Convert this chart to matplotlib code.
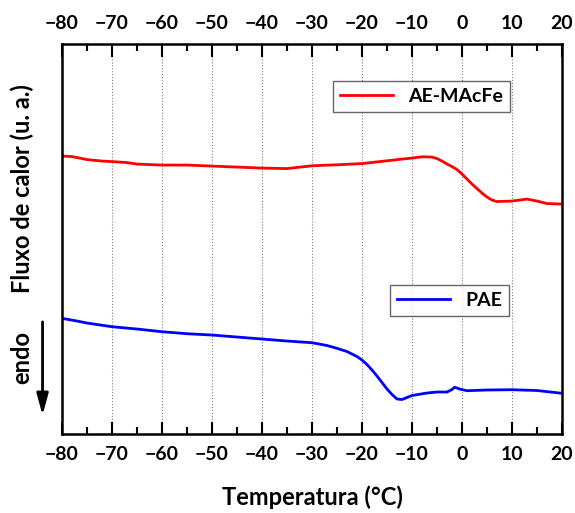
#DSC curves for AE-MAcFe and PAE
import numpy as np
import matplotlib.pyplot as plt
from matplotlib.lines import Line2D

plt.rcParams['font.family'] = ['Lato', 'DejaVu Sans']
plt.rcParams['font.weight'] = 'bold'

#temperatures and heat flow (arbitrary units)
t_red = [-80, -78, -75, -72, -70, -67, -65, -60, -55, -50, -45, -40, -35, -30, -25, -20, -15,
         -12, -10, -8, -6, -5, -4, -3, -2, -1, 0, 1, 2, 3, 4, 5, 6, 7, 10, 13, 15, 17, 20]
y_red = [278, 277.5, 274.5, 273, 272.5, 271.5, 270, 269, 269, 268, 267, 266, 265.5, 268.3, 269.3, 270.5, 273.3,
         275, 276, 277.3, 277, 275.5, 273, 270, 267.5, 264.5, 260, 255, 250, 245.5, 241, 237, 234, 232.5,
         233, 235, 233, 230.5, 230]

t_blue = [-80, -77, -75, -70, -65, -60, -55, -50, -45, -40, -35, -30, -27, -25, -23, -22, -21, -20, -19, -18,
          -17, -16, -15, -14, -13, -12, -10, -7, -5, -3, -2, -1.5, -1, -0.5, 1, 5, 10, 15, 20]
y_blue = [115.7, 113, 111, 107.3, 105, 102.3, 100.3, 99, 97, 95, 93, 91.3, 88.5, 85.7, 82.5, 80, 77.5, 74, 69.5, 64,
          58, 51.5, 45, 39.5, 35, 34.5, 38.5, 41, 42, 42, 44.5, 46.7, 46, 45, 43.3, 44, 44.3, 43.5, 40.7]

fig = plt.figure(figsize=(5.75, 5.13), dpi=100)
ax = fig.add_axes([0.1078, 0.154, 0.8696, 0.760])

ax.plot(t_red, y_red, color='#ff0000', lw=2)
ax.plot(t_blue, y_blue, color='#0000ff', lw=2)

ax.set_xlim(-80, 20)
ax.set_ylim(0, 390)
ax.set_xticks(np.arange(-80, 21, 10))
ax.set_xticks(np.arange(-75, 20, 10), minor=True)
ax.set_yticks([])
ax.tick_params(axis='x', which='both', direction='in', top=True, labeltop=True,
               labelsize=14, width=1.5, pad=9)
ax.tick_params(axis='x', which='major', length=9)
ax.tick_params(axis='x', which='minor', length=5)
for lab in ax.get_xticklabels():
    lab.set_fontweight('bold')
for s in ax.spines.values():
    s.set_linewidth(1.8)

ax.grid(axis='x', which='major', color='gray', ls=':', lw=0.8)

ax.set_xlabel('Temperatura (°C)', fontsize=17, fontweight='bold', labelpad=16)
fig.text(0.038, 0.632, 'Fluxo de calor (u. a.)', rotation=90, fontsize=17,
         fontweight='bold', ha='center', va='center')
fig.text(0.038, 0.304, 'endo', rotation=90, fontsize=17, fontweight='bold',
         ha='center', va='center')
fig.add_artist(plt.Annotation('', xy=(0.074, 0.185), xytext=(0.074, 0.378),
                              xycoords='figure fraction',
                              arrowprops=dict(arrowstyle='-|>,head_width=0.35,head_length=1.3',
                                              color='black', lw=2)))

leg1 = ax.legend([Line2D([], [], color='#ff0000', lw=2)], ['AE-MAcFe'],
                 loc='upper right', bbox_to_anchor=(0.896, 0.905), fancybox=False,
                 edgecolor='#404040', fontsize=14, handlelength=2.7, borderpad=0.35,
                 borderaxespad=0)
leg1.get_frame().set_linewidth(1)
ax.add_artist(leg1)
leg2 = ax.legend([Line2D([], [], color='#0000ff', lw=2)], ['PAE'],
                 loc='upper right', bbox_to_anchor=(0.894, 0.382), fancybox=False,
                 edgecolor='#404040', fontsize=14, handlelength=2.7, borderpad=0.35,
                 borderaxespad=0)
leg2.get_frame().set_linewidth(1)

plt.savefig('out.png', dpi=100)
